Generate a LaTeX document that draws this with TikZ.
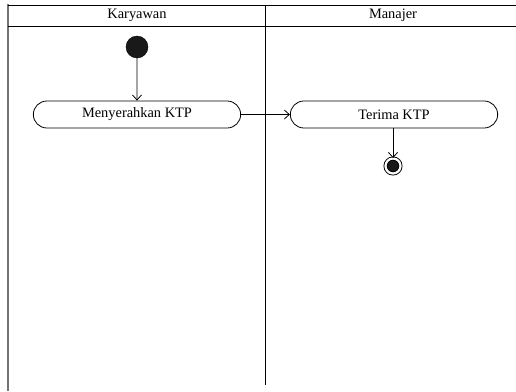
\documentclass[tikz,border=0pt]{standalone}
\usepackage{fontspec}
\setmainfont{Liberation Serif}
\usetikzlibrary{arrows.meta,shapes.misc}
\tikzstyle{lane}=[draw=black,line width=0.9pt]
\tikzstyle{initial}=[circle,fill=black!90,draw=black,minimum size=22pt,inner sep=0pt]
\tikzstyle{final}=[circle,draw=black,line width=0.9pt,double=white,double distance=2.2pt,fill=black!90,minimum size=15pt,inner sep=0pt]
\tikzstyle{activity}=[rounded rectangle,draw=black,line width=0.8pt,minimum width=214pt,minimum height=27pt,font=\fontsize{14.4}{16}\selectfont]
\tikzstyle{flow}=[-{Straight Barb[length=5pt,width=9pt]},line width=0.8pt]

\begin{document}
\begin{tikzpicture}[x=1pt,y=-1pt]
        \useasboundingbox (0,0) rectangle (516,391);

        % swimlanes
        \draw [lane,draw=black!55,line width=1.6pt] (8,4) -- (8,391);
        \draw [lane] (8,5) -- (516,5);
        \draw [lane] (8,26) -- (516,26);
        \draw [lane] (265,5) -- (265,385);
        \node at (137,15.5) [font=\fontsize{14.4}{16}\selectfont] (k) {Karyawan};
        \node at (393,15.5) [font=\fontsize{14.4}{16}\selectfont] (m) {Manajer};

        \node at (137,47)    [initial]  (s) {};
        \node at (137,114.5) [activity] (a) {Menyerahkan KTP};
        \node at (394,114.5) [activity] (b) {Terima KTP};
        \node at (393,166)   [final]    (e) {};

        \draw [flow] (s) -- (a);
        \draw [flow] (a) -- (b);
        \draw [flow] (b.south -| e) -- (e);
      \end{tikzpicture}
\end{document}
